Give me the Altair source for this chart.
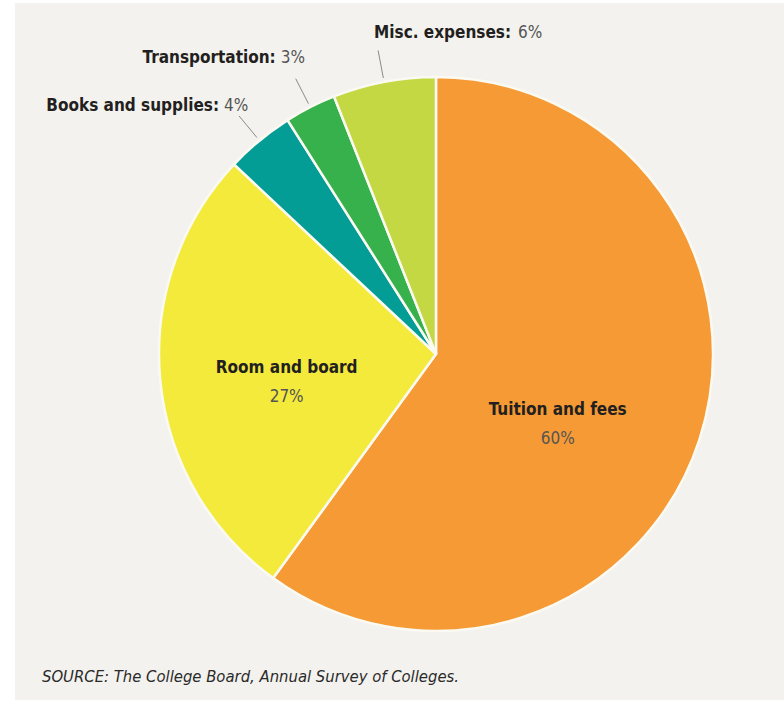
import altair as alt
import pandas as pd

categories = ["Tuition and fees", "Room and board", "Books and supplies", "Transportation", "Misc. expenses"]
shares = [60, 27, 4, 3, 6]
order = [0, 1, 2, 3, 4]
colors = ["#f59a34", "#f3ea3c", "#049d95", "#36b14b", "#c4d843"]
source_note = "SOURCE: The College Board, Annual Survey of Colleges."

df = pd.DataFrame({"category": categories, "value": shares, "order": order})
df["pct"] = [f"{v}%" for v in shares]
df["head"] = [c if i < 2 else c + ":" for i, c in enumerate(categories)]

CX, CY, R = 436, 354, 277
FONT = "DejaVu Sans Condensed"

base = alt.Chart(df).transform_joinaggregate(
    total="sum(value)"
).transform_window(
    cum="sum(value)", sort=[alt.SortField("order")], frame=[None, 0]
).transform_calculate(
    mid="(datum.cum - datum.value / 2) / datum.total * 2 * PI"
)

bg = alt.Chart(pd.DataFrame({"k": [0]})).mark_rect(color="#f3f2ee").encode(
    x=alt.value(15), x2=alt.value(784), y=alt.value(3), y2=alt.value(700)
)

pie = alt.Chart(df).mark_arc(outerRadius=R, stroke="#fbfaf2", strokeWidth=2.5).encode(
    theta=alt.Theta("value:Q", stack=True),
    color=alt.Color("category:N", scale=alt.Scale(domain=categories, range=colors), legend=None),
    order=alt.Order("order:Q"),
    x=alt.value(CX),
    y=alt.value(CY),
)


def polar(chart, r, name):
    return chart.transform_calculate(
        **{name + "x": f"{CX} + {r} * sin(datum.mid)", name + "y": f"{CY} - {r} * cos(datum.mid)"}
    )


outer = ["Books and supplies", "Transportation", "Misc. expenses"]

leaders = polar(polar(base.transform_filter(alt.FieldOneOfPredicate(field="category", oneOf=outer)), 281, "a"), 309, "b").mark_rule(
    color="#8a8a8a", strokeWidth=1
).encode(
    x=alt.X("ax:Q", scale=None, axis=None),
    y=alt.Y("ay:Q", scale=None, axis=None),
    x2="bx:Q",
    y2="by:Q",
)

layers = [bg, pie, leaders]

# outer labels (left side ones end at the leader line)
for cat, dy in [("Books and supplies", -10), ("Transportation", -21)]:
    b = polar(base.transform_filter(alt.datum.category == cat), 309, "b")
    layers.append(b.mark_text(font=FONT, fontWeight="bold", fontSize=17, color="#231f20",
                              align="right", baseline="middle", dx=-20, dy=dy).encode(
        x=alt.X("bx:Q", scale=None, axis=None), y=alt.Y("by:Q", scale=None, axis=None), text="head:N"))
    layers.append(b.mark_text(font=FONT, fontSize=17, color="#555555",
                              align="left", baseline="middle", dx=-15, dy=dy).encode(
        x=alt.X("bx:Q", scale=None, axis=None), y=alt.Y("by:Q", scale=None, axis=None), text="pct:N"))

bm = polar(base.transform_filter(alt.datum.category == "Misc. expenses"), 309, "b")
layers.append(bm.mark_text(font=FONT, fontWeight="bold", fontSize=17, color="#231f20",
                           align="left", baseline="middle", dx=-4, dy=-17).encode(
    x=alt.X("bx:Q", scale=None, axis=None), y=alt.Y("by:Q", scale=None, axis=None), text="head:N"))
layers.append(bm.mark_text(font=FONT, fontSize=17, color="#555555",
                           align="left", baseline="middle", dx=140, dy=-17).encode(
    x=alt.X("bx:Q", scale=None, axis=None), y=alt.Y("by:Q", scale=None, axis=None), text="pct:N"))

# inner labels
for cat, r, d1, d2 in [("Tuition and fees", 128, 16, 45), ("Room and board", 150, 0, 29)]:
    b = polar(base.transform_filter(alt.datum.category == cat), r, "c")
    layers.append(b.mark_text(font=FONT, fontWeight="bold", fontSize=17, color="#231f20",
                              align="center", baseline="middle", dy=d1).encode(
        x=alt.X("cx:Q", scale=None, axis=None), y=alt.Y("cy:Q", scale=None, axis=None), text="head:N"))
    layers.append(b.mark_text(font=FONT, fontSize=17, color="#555555",
                              align="center", baseline="middle", dy=d2).encode(
        x=alt.X("cx:Q", scale=None, axis=None), y=alt.Y("cy:Q", scale=None, axis=None), text="pct:N"))

note = alt.Chart(pd.DataFrame({"t": [source_note]})).mark_text(
    font=FONT, fontStyle="italic", fontSize=16.5, color="#2a2a2a", align="left", baseline="middle"
).encode(x=alt.value(42), y=alt.value(677), text="t:N")
layers.append(note)

chart = alt.layer(*layers).properties(
    width=784, height=704, padding=0, background="#ffffff",
    autosize=alt.AutoSizeParams(type="none"),
).configure_view(stroke=None)

chart.save("out.html", embed_options={"renderer": "svg", "actions": False})
